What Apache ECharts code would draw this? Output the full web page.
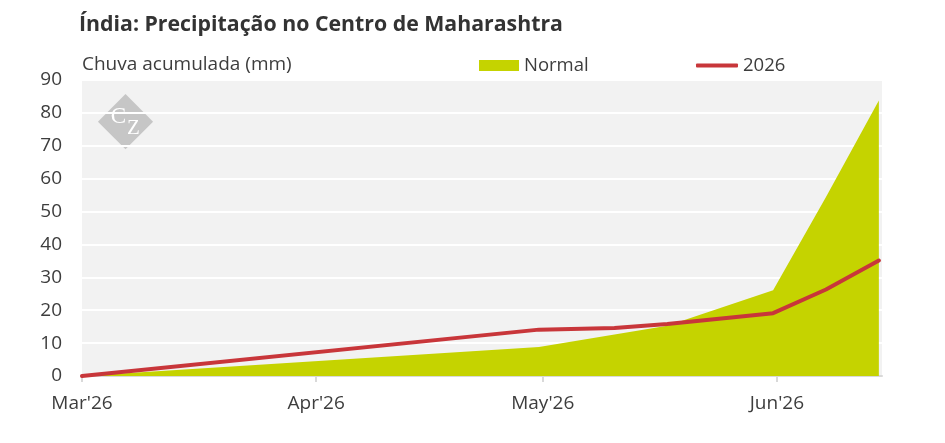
<!DOCTYPE html>
<html>
<head>
<meta charset="utf-8">
<script src="https://cdn.jsdelivr.net/npm/echarts@6/dist/echarts.min.js"></script>
<style>
  html, body {margin: 0; padding: 0; background: #fff;}
  #chart {width: 945px; height: 443px;}
</style>
</head>
<body>
<div id="chart"></div>
<script>
// series data
const normalDates = ["2026-03-01 00:00", "2026-04-30 12:00", "2026-05-17 12:00", "2026-05-31 12:00", "2026-06-07 12:00", "2026-06-14 12:00"];
const normalValues = [0, 8.8, 15.3, 26.1, 54.4, 83.8];

const rainDates = ["2026-03-01 00:00", "2026-04-30 12:00", "2026-05-10 12:00", "2026-05-17 12:00", "2026-05-31 12:00", "2026-06-07 12:00", "2026-06-14 12:00"];
const rainValues = [0, 14.1, 14.6, 15.8, 19.1, 26.3, 35.1];

const tickDates = ["2026-03-01", "2026-04-01", "2026-05-01", "2026-06-01"];
const tickLabels = ["Mar'26", "Apr'26", "May'26", "Jun'26"];

const GREEN = "#c5d300";
const RED = "#c8363a";
const TEXT = "#3d3d3d";
const FONT = "'Open Sans', 'Noto Sans', sans-serif";
const SERIF = "'Liberation Serif', 'DejaVu Serif', serif";

const toTime = s => new Date(s.replace(" ", "T")).getTime();
const tickTimes = tickDates.map(d => toTime(d + " 00:00"));

const chart = echarts.init(document.getElementById("chart"));

chart.setOption({
  animation: false,
  textStyle: {fontFamily: FONT},
  title: {
    text: "Índia: Precipitação no Centro de Maharashtra",
    left: 79,
    top: 14,
    padding: 0,
    textStyle: {fontFamily: FONT, fontSize: 21.3, fontWeight: "bold", color: "#333"},
  },
  legend: [
    {
      data: [{name: "Normal", icon: "rect"}],
      left: 479,
      top: 56,
      padding: 0,
      itemWidth: 40,
      itemHeight: 11,
      selectedMode: false,
      textStyle: {fontFamily: FONT, fontSize: 18.5, color: TEXT},
    },
    {
      data: [{name: "2026", icon: "roundRect"}],
      left: 696,
      top: 56,
      padding: 0,
      itemWidth: 42,
      itemHeight: 4,
      selectedMode: false,
      textStyle: {fontFamily: FONT, fontSize: 18.5, color: TEXT},
    },
  ],
  graphic: [
    {
      type: "text",
      left: 82,
      top: 55,
      style: {text: "Chuva acumulada (mm)", fontSize: 19, fontFamily: FONT, fill: TEXT},
    },
    {
      type: "group",
      x: 125.5,
      y: 121.7,
      z: 100,
      children: [
        {
          type: "rect",
          rotation: Math.PI / 4,
          shape: {x: -19.5, y: -19.5, width: 39, height: 39},
          style: {fill: "#c6c6c6"},
        },
        {
          type: "text",
          x: -7,
          y: -5,
          style: {text: "C", fontSize: 23, fontFamily: SERIF, fill: "#fff", align: "center", verticalAlign: "middle"},
        },
        {
          type: "text",
          x: 8,
          y: 6.5,
          style: {text: "Z", fontSize: 21, fontFamily: SERIF, fill: "#fff", align: "center", verticalAlign: "middle"},
        },
      ],
    },
  ],
  grid: {
    left: 82,
    right: 63,
    top: 80,
    bottom: 67,
    show: true,
    backgroundColor: "#f2f2f2",
    borderWidth: 0,
    containLabel: false,
  },
  xAxis: {
    type: "value",
    min: toTime("2026-03-01 00:00"),
    max: toTime("2026-06-14 22:00"),
    axisLine: {show: true, lineStyle: {color: "#d9d9d9", width: 2}},
    axisTick: {show: true, customValues: tickTimes, length: 6, lineStyle: {color: "#d9d9d9", width: 2}},
    splitLine: {show: false},
    axisLabel: {
      customValues: tickTimes,
      margin: 18,
      fontSize: 19,
      fontFamily: FONT,
      color: TEXT,
      hideOverlap: false,
      formatter: (v) => {
        const i = tickTimes.indexOf(v);
        return i >= 0 ? tickLabels[i] : "";
      },
    },
  },
  yAxis: {
    type: "value",
    min: 0,
    max: 90,
    interval: 10,
    axisLine: {show: false},
    axisTick: {show: false},
    splitLine: {show: true, lineStyle: {color: "#ffffff", width: 2}},
    axisLabel: {margin: 20, fontSize: 19, fontFamily: FONT, color: TEXT},
  },
  series: [
    {
      name: "Normal",
      type: "line",
      data: normalDates.map((d, i) => [toTime(d), normalValues[i]]),
      showSymbol: false,
      lineStyle: {width: 0},
      itemStyle: {color: GREEN},
      areaStyle: {color: GREEN, opacity: 1},
      z: 2,
    },
    {
      name: "2026",
      type: "line",
      data: rainDates.map((d, i) => [toTime(d), rainValues[i]]),
      showSymbol: false,
      lineStyle: {width: 4, color: RED, cap: "round", join: "round"},
      itemStyle: {color: RED},
      z: 3,
    },
  ],
});
</script>
</body>
</html>
